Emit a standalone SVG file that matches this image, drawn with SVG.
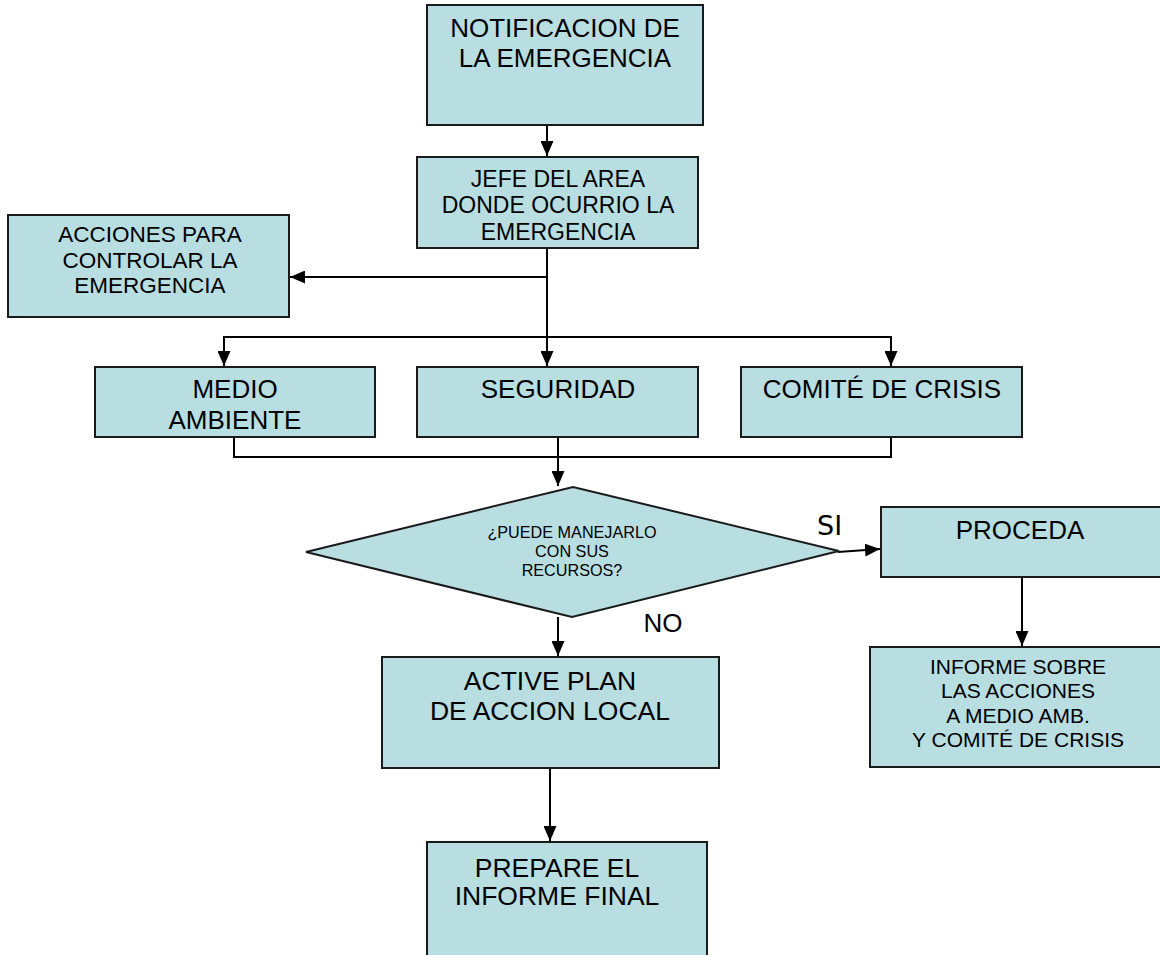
<svg xmlns="http://www.w3.org/2000/svg" width="1160" height="955" viewBox="0 0 1160 955">
<style>
.box{fill:#B8DEE2;stroke:#1a1a1a;stroke-width:2}
.t{font-family:"Liberation Sans",Arial,sans-serif;fill:#000;text-anchor:middle}
.lbl{font-family:"DejaVu Sans",Verdana,sans-serif;fill:#000}
.c{fill:none;stroke:#000;stroke-width:2}
</style>
<defs>
<marker id="ah" markerUnits="userSpaceOnUse" markerWidth="15" markerHeight="13" refX="15" refY="6.5" orient="auto">
<path d="M0,0 L15,6.5 L0,13 z" fill="#000"/>
</marker>
</defs>
<rect width="1160" height="955" fill="#fff"/>
<g id="connectors">
<path class="c" d="M547,125 V156" marker-end="url(#ah)"/>
<path class="c" d="M547,248 V366" marker-end="url(#ah)"/>
<path class="c" d="M547,277 H290" marker-end="url(#ah)"/>
<path class="c" d="M547,337 H224 V366" marker-end="url(#ah)"/>
<path class="c" d="M547,337 H891 V366" marker-end="url(#ah)"/>
<path class="c" d="M234,437 V457 H891 V437"/>
<path class="c" d="M558,437 V486" marker-end="url(#ah)"/>
<path class="c" d="M838,552 L880,549" marker-end="url(#ah)"/>
<path class="c" d="M558,617 V656" marker-end="url(#ah)"/>
<path class="c" d="M550,768 V841" marker-end="url(#ah)"/>
<path class="c" d="M1022,577 V646" marker-end="url(#ah)"/>
</g>
<g id="n1"><rect class="box" x="427" y="5" width="276" height="120"/>
<text class="t" font-size="26" x="565" y="37">NOTIFICACION DE</text>
<text class="t" font-size="26" x="565" y="67">LA EMERGENCIA</text></g>
<g id="n2"><rect class="box" x="417" y="157" width="281" height="91"/>
<text class="t" font-size="23" x="558" y="187">JEFE DEL AREA</text>
<text class="t" font-size="23" x="558" y="213">DONDE OCURRIO LA</text>
<text class="t" font-size="23" x="558" y="240">EMERGENCIA</text></g>
<g id="n3"><rect class="box" x="8" y="215" width="281" height="102"/>
<text class="t" font-size="22.5" x="150" y="242">ACCIONES PARA</text>
<text class="t" font-size="22.5" x="150" y="268">CONTROLAR LA</text>
<text class="t" font-size="22.5" x="150" y="293">EMERGENCIA</text></g>
<g id="n4"><rect class="box" x="95" y="367" width="280" height="70"/>
<text class="t" font-size="26" x="235" y="398">MEDIO</text>
<text class="t" font-size="26" x="235" y="429">AMBIENTE</text></g>
<g id="n5"><rect class="box" x="417" y="367" width="281" height="70"/>
<text class="t" font-size="26" x="558" y="398">SEGURIDAD</text></g>
<g id="n6"><rect class="box" x="741" y="367" width="281" height="70"/>
<text class="t" font-size="26" x="882" y="398">COMITÉ DE CRISIS</text></g>
<g id="n7"><polygon class="box" points="306,552 573,487 839,551 572,617"/>
<text class="t" font-size="16.2" x="572" y="538">¿PUEDE MANEJARLO</text>
<text class="t" font-size="16.2" x="572" y="557">CON SUS</text>
<text class="t" font-size="16.2" x="572" y="576">RECURSOS?</text></g>
<g id="n8"><rect class="box" x="881" y="507" width="290" height="70"/>
<text class="t" font-size="26" x="1020" y="539">PROCEDA</text></g>
<g id="n9"><rect class="box" x="870" y="647" width="300" height="120"/>
<text class="t" font-size="21" x="1018" y="674">INFORME SOBRE</text>
<text class="t" font-size="21" x="1018" y="698">LAS ACCIONES</text>
<text class="t" font-size="21" x="1018" y="723">A MEDIO AMB.</text>
<text class="t" font-size="21" x="1018" y="747">Y COMITÉ DE CRISIS</text></g>
<g id="n10"><rect class="box" x="382" y="657" width="337" height="111"/>
<text class="t" font-size="26.5" x="550" y="690">ACTIVE PLAN</text>
<text class="t" font-size="26.5" x="550" y="720">DE ACCION LOCAL</text></g>
<g id="n11"><rect class="box" x="427" y="842" width="280" height="125"/>
<text class="t" font-size="26.5" x="557" y="877">PREPARE EL</text>
<text class="t" font-size="26.5" x="557" y="905">INFORME FINAL</text></g>
<g id="labels">
<text class="lbl" font-size="27" x="817" y="535">SI</text>
<text class="t" font-size="26" x="663" y="632">NO</text>
</g>
</svg>
